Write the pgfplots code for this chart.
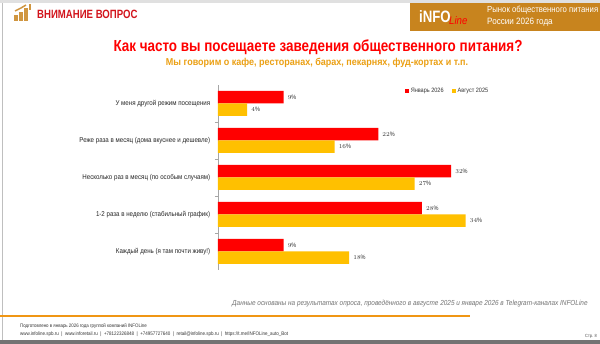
\documentclass[border=0pt]{standalone}
\usepackage{fontspec}
\setmainfont{Liberation Sans}[FakeStretch=0.88]
\newfontfamily\cond{Liberation Sans}[FakeStretch=0.80]
\newfontfamily\condT{Liberation Sans}[FakeStretch=0.84]
\newfontfamily\condS{Liberation Sans}[FakeStretch=0.90]
\usepackage{pgfplots}
\pgfplotsset{compat=1.18}
\definecolor{cRed}{RGB}{255,0,0}
\definecolor{cYel}{RGB}{255,192,0}
\definecolor{hdrRed}{RGB}{210,20,28}
\definecolor{hdrOr}{RGB}{200,132,30}
\definecolor{subOr}{RGB}{235,160,20}
\definecolor{lineOr}{RGB}{240,150,20}
\begin{document}
\begin{tikzpicture}[x=1pt,y=1pt]
\path[use as bounding box] (0,0) rectangle (600,344);
\clip (0,0) rectangle (600,344);
\fill[white] (0,0) rectangle (600,344);
% frame
\fill[black!12] (0,341) rectangle (600,344);
\fill[black!55] (0,0) rectangle (600,4);
\draw[black!25,line width=1pt] (2,4) -- (2,341);
% header left
\fill[hdrOr!85] (14,323) rectangle (17.5,329);
\fill[hdrOr!85] (19,323) rectangle (22.5,332);
\fill[hdrOr!85] (24,323) rectangle (27.5,336);
\draw[hdrOr!85,line width=1.5pt] (15,333) -- (21,336) -- (26,339);
\fill[hdrOr!85] (29,334) rectangle (31,340);
\node[anchor=west,inner sep=0pt,text=hdrRed,font=\cond\bfseries\fontsize{12}{13}\selectfont] at (37,330) {ВНИМАНИЕ ВОПРОС};
% header right
\fill[hdrOr] (410,313) rectangle (600,341);
\node[anchor=west,inner sep=0pt,text=white,font=\cond\bfseries\fontsize{16.5}{17}\selectfont] at (419,327) {iNFO};
\node[anchor=west,inner sep=0pt,text=cRed,font=\itshape\fontsize{11}{12}\selectfont] at (449,323) {Line};
\node[anchor=west,inner sep=0pt,text=white,font=\fontsize{8.8}{10}\selectfont] at (487,333.5) {Рынок общественного питания};
\node[anchor=west,inner sep=0pt,text=white,font=\fontsize{9.2}{10}\selectfont] at (487,322) {России 2026 года};
% titles
\node[inner sep=0pt,text=cRed,font=\condT\bfseries\fontsize{16}{17}\selectfont] at (318,297) {Как часто вы посещаете заведения общественного питания?};
\node[inner sep=0pt,text=subOr,font=\condS\bfseries\fontsize{10}{11}\selectfont] at (317,281) {Мы говорим о кафе, ресторанах, барах, пекарнях, фуд-кортах и т.п.};
% chart
\begin{axis}[
  at={(218pt,74pt)}, anchor=south west,
  scale only axis, width=255pt, height=185pt,
  xbar, bar width=12.5pt,
  xmin=0, xmax=35, ymin=-0.5, ymax=4.5,
  xtick={0,5,...,35}, xticklabels={}, major x tick style={draw=none},
  xmajorgrids, grid style={black!12, line width=0.5pt},
  ytick={0,1,2,3,4},
  yticklabels={Каждый день (я там почти живу!),1-2 раза в неделю (стабильный график),Несколько раз в месяц (по особым случаям),Реже раза в месяц (дома вкуснее и дешевле),У меня другой режим посещения},
  yticklabel style={font=\fontsize{7}{8}\selectfont, text=black!85},
  major y tick style={draw=none},
  minor ytick={0.5,1.5,2.5,3.5}, minor tick length=3pt,
  minor y tick style={black!35}, tick align=outside,
  axis x line=none,
  axis y line*=left, y axis line style={black!35, -},
  nodes near coords={\pgfmathprintnumber{\pgfplotspointmeta}\%},
  nodes near coords style={anchor=west, font=\fontsize{6.3}{7}\selectfont, text=black!80, inner sep=2pt, xshift=2pt},
  point meta=explicit symbolic,
  legend style={at={(0.9,0.968)}, anchor=center, draw=none, fill=none,
    legend columns=2, font=\fontsize{6.3}{7}\selectfont, text=black!80,
    /tikz/every even column/.append style={column sep=6pt}},
  legend image code/.code={\fill[#1] (0pt,-2pt) rectangle (4pt,2pt);},
  clip=false,
]
\addplot[fill=cRed, draw=none, bar shift=6.25pt] table[x=x,y=y,meta=m] {
y x m
4 9 9
3 22 22
2 32 32
1 28 28
0 9 9
};
\addplot[fill=cYel, draw=none, bar shift=-6.25pt] table[x=x,y=y,meta=m] {
y x m
4 4 4
3 16 16
2 27 27
1 34 34
0 18 18
};
\legend{Январь 2026, Август 2025}
\end{axis}
% footnote
\node[anchor=west,inner sep=0pt,text=black!55,font=\itshape\fontsize{7.3}{8}\selectfont] at (232,40) {Данные основаны на результатах опроса, проведённого в августе 2025 и январе 2026 в Telegram-каналах INFOLine};
\draw[lineOr,line width=2.5pt] (0,28) -- (470,28);
% footer
\node[anchor=west,inner sep=0pt,text=black!80,font=\fontsize{5}{6}\selectfont] at (20,17.5) {Подготовлено в январь 2026 года группой компаний INFOLine};
\node[anchor=west,inner sep=0pt,text=black!80,font=\fontsize{5.1}{6}\selectfont] at (20,10) {www.infoline.spb.ru \ | \ www.inforetail.ru \ | \ +78122326848 \ | \ +74957727640 \ | \ retail@infoline.spb.ru \ | \ https://t.me/INFOLine\_auto\_Bot};
\node[anchor=east,inner sep=0pt,text=black!70,font=\fontsize{4.5}{5}\selectfont] at (597,7.5) {Стр. 8};
\end{tikzpicture}
\end{document}
